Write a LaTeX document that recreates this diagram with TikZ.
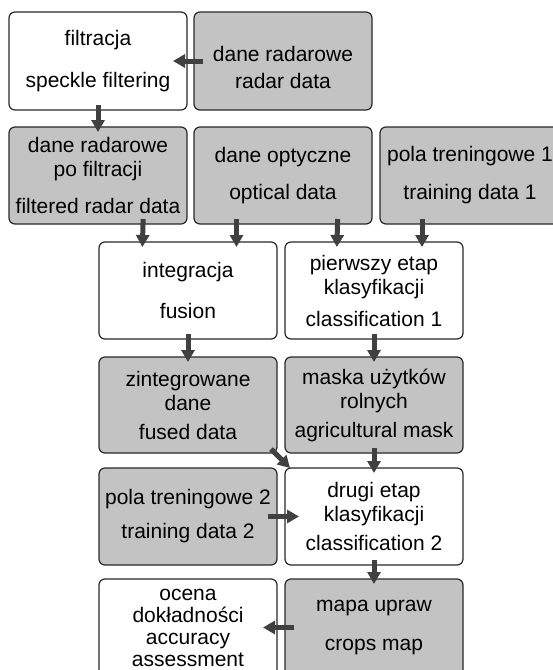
\documentclass[tikz,border=0pt]{standalone}
\usepackage{fontspec}
\setmainfont{Liberation Sans}
\usetikzlibrary{arrows.meta, positioning, calc}
\definecolor{boxgray}{RGB}{195,195,195}
\definecolor{arrowgray}{RGB}{64,64,64}
\definecolor{linegray}{RGB}{40,40,40}

\begin{document}
\begin{tikzpicture}[
  wbox/.style = {draw=linegray, line width=1.2pt, rounded corners=6pt, minimum width=178pt,
                 inner sep=3pt, outer sep=0pt, align=center, fill=white,
                 font=\fontsize{21}{24}\selectfont},
  gbox/.style = {wbox, fill=boxgray},
  varr/.style = {-{Triangle[length=12pt, width=13pt]}, line width=5pt, draw=arrowgray,
                 shorten <=-5pt, shorten >=-5pt},
  harr/.style = {varr, shorten <=-9pt, shorten >=-14pt},
]
\useasboundingbox (0,0) rectangle (553pt,-670pt);
\clip (0,0) rectangle (553pt,-670pt);

% ── Radar input and filtering ────────────────────────────────────────────────
\node[wbox, minimum height=98pt, anchor=north west] (filt) at (9pt,-12pt)
     {filtracja\\[18pt]speckle filtering};
\node[gbox, minimum height=98pt, right=7pt of filt] (radar)
     {\rule{0pt}{29pt}dane radarowe\\[3pt]radar data};

% ── Data sources ─────────────────────────────────────────────────────────────
\node[gbox, minimum height=97pt, below=17pt of filt]  (filtd)
     {dane radarowe\\po filtracji\\[13pt]filtered radar data};
\node[gbox, minimum height=97pt, right=7pt of filtd]  (optic)
     {dane optyczne\\[13pt]optical data};
\node[gbox, minimum height=97pt, minimum width=180pt, right=8pt of optic] (train1)
     {pola treningowe 1\\[14pt]training data 1};

% ── Fusion and first classification ──────────────────────────────────────────
\node[wbox, minimum height=97pt, below right=18pt and 90pt of filtd.south west] (integ)
     {integracja\\[17pt]fusion};
\node[wbox, minimum height=97pt, right=8pt of integ] (pier)
     {pierwszy etap\\klasyfikacji\\[8pt]classification 1};

\node[gbox, minimum height=96pt, below=18pt of integ] (zint)
     {zintegrowane\\dane\\[5pt]fused data};
\node[gbox, minimum height=96pt, right=8pt of zint]   (mask)
     {maska użytków\\rolnych\\[5pt]agricultural mask};

% ── Second classification and result ─────────────────────────────────────────
\node[gbox, minimum height=97pt, below=15pt of zint]   (train2)
     {pola treningowe 2\\[10pt]training data 2};
\node[wbox, minimum height=97pt, right=8pt of train2]  (drugi)
     {drugi etap\\klasyfikacji\\[5pt]classification 2};

\node[wbox, minimum height=97pt, below=14pt of train2,
      font=\fontsize{21}{22}\selectfont] (ocena)
     {ocena\\dokładności\\accuracy\\assessment};
\node[gbox, minimum height=97pt, right=8pt of ocena]   (crops)
     {mapa upraw\\[15pt]crops map};

% ── Arrows ───────────────────────────────────────────────────────────────────
\draw[harr] (radar) -- (filt);
\draw[varr] (filt) -- (filtd);
\draw[varr] ([xshift=45pt]filtd.south)  -- ([xshift=-45.5pt]integ.north);
\draw[varr] ([xshift=-46.5pt]optic.south) -- ([xshift=48.5pt]integ.north);
\draw[varr] ([xshift=54.5pt]optic.south) -- ([xshift=-37pt]pier.north);
\draw[varr] ([xshift=-48pt]train1.south) -- ([xshift=48pt]pier.north);
\foreach \a/\b in {integ/zint, pier/mask, mask/drugi, drugi/crops}
  \draw[varr] (\a) -- (\b);
\draw[varr, shorten <=0pt, shorten >=0pt]
    ([shift={(-6pt,4pt)}]zint.south east) -- ([xshift=5pt]drugi.north west);
\draw[harr] (train2) -- (drugi);
\draw[harr] (crops) -- (ocena);
\end{tikzpicture}
\end{document}
